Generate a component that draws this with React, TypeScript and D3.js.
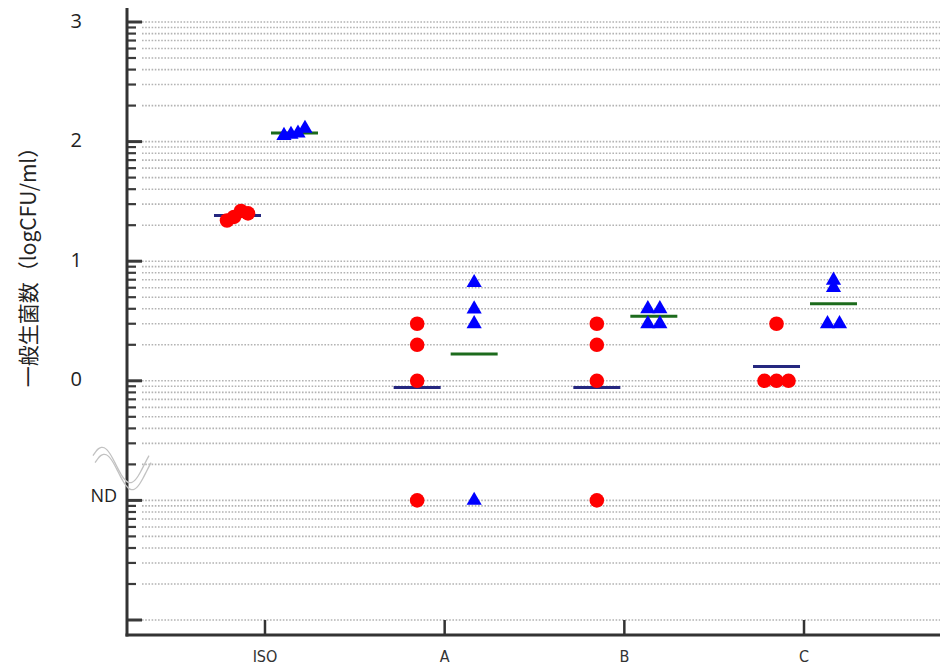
import React, { useEffect, useRef } from "react";
import * as d3 from "d3";

// Dot plot of log CFU per sample, two series per category with mean bars.
const categories = ["ISO", "A", "B", "C"];
const redValues = [
  [1.34, 1.37, 1.42, 1.4],
  [0.477, 0.301, 0, -1],
  [0.477, 0.301, 0, -1],
  [0.477, 0, 0, 0],
];
const blueValues = [
  [2.05, 2.06, 2.07, 2.11],
  [0.82, 0.6, 0.477, -1],
  [0.602, 0.602, 0.477, 0.477],
  [0.84, 0.78, 0.477, 0.477],
];
const yTickValues = [3, 2, 1, 0, -1];
const yTickLabels = ["3", "2", "1", "0", "ND"];
const yTitle = "一般生菌数（logCFU/ml）";

const W = 940;
const H = 665;

// horizontal offsets for points whose values lie close together
function spread(vals: number[], tol: number) {
  const idx = vals.map((_, i) => i).sort((a, b) => vals[a] - vals[b]);
  const offs = vals.map(() => 0);
  let group: number[] = [idx[0]];
  const flush = () => {
    if (group.length > 1) {
      const g = group.slice().sort((a, b) => a - b);
      const same = g.every((i) => vals[i] === vals[g[0]]);
      const step = same ? 12 : 7;
      g.forEach((i, k) => (offs[i] = (k - (g.length - 1) / 2) * step));
    }
  };
  for (let k = 1; k < idx.length; k++) {
    if (vals[idx[k]] - vals[idx[k - 1]] < tol) group.push(idx[k]);
    else {
      flush();
      group = [idx[k]];
    }
  }
  flush();
  return offs;
}

export default function App() {
  const ref = useRef<SVGSVGElement>(null);

  useEffect(() => {
    const svg = d3.select(ref.current);
    svg.selectAll("*").remove();

    const axisX = 127;
    const axisY = 635;
    const y = d3.scaleLinear().domain([-2, 3]).range([620, 22]);
    const x = d3.scalePoint().domain(categories).range([127, 942]).padding(0.768);
    const sub = d3.scaleBand().domain(["red", "blue"]).range([-56, 58]);
    const subX = (s: string) => (sub(s) as number) + sub.bandwidth() / 2;

    // grid lines + ticks at every log position
    const grid: { v: number; major: boolean }[] = [];
    for (let d = -2; d < 3; d++) {
      for (let k = 1; k <= 9; k++) grid.push({ v: d + Math.log10(k), major: k === 1 });
    }
    grid.push({ v: 3, major: true });

    svg
      .append("g")
      .selectAll("line")
      .data(grid)
      .join("line")
      .attr("x1", 142)
      .attr("x2", W)
      .attr("y1", (d) => y(d.v))
      .attr("y2", (d) => y(d.v))
      .attr("stroke", "#b3b3b3")
      .attr("stroke-width", 1.6)
      .attr("stroke-dasharray", "1.6,1.6");

    svg
      .append("g")
      .selectAll("line")
      .data(grid)
      .join("line")
      .attr("x1", axisX)
      .attr("x2", (d) => axisX + (d.major ? 15 : 9))
      .attr("y1", (d) => y(d.v))
      .attr("y2", (d) => y(d.v))
      .attr("stroke", "#3a3a3a")
      .attr("stroke-width", (d) => (d.major ? 3 : 2.2));

    // axes
    svg
      .append("line")
      .attr("x1", axisX)
      .attr("x2", axisX)
      .attr("y1", 8)
      .attr("y2", axisY + 1.5)
      .attr("stroke", "#333")
      .attr("stroke-width", 3);
    svg
      .append("line")
      .attr("x1", axisX - 1.5)
      .attr("x2", W)
      .attr("y1", axisY)
      .attr("y2", axisY)
      .attr("stroke", "#333")
      .attr("stroke-width", 3);

    svg
      .append("g")
      .selectAll("line")
      .data(categories)
      .join("line")
      .attr("x1", (d) => x(d) as number)
      .attr("x2", (d) => x(d) as number)
      .attr("y1", axisY)
      .attr("y2", axisY - 15)
      .attr("stroke", "#333")
      .attr("stroke-width", 2.5);

    svg
      .append("g")
      .selectAll("text")
      .data(categories)
      .join("text")
      .attr("x", (d) => x(d) as number)
      .attr("y", 662)
      .attr("text-anchor", "middle")
      .attr("font-family", "'DejaVu Sans Condensed', 'DejaVu Sans', sans-serif")
      .attr("font-size", 16)
      .attr("fill", "#333")
      .text((d) => d);

    // y tick labels
    svg
      .append("g")
      .selectAll("text")
      .data(yTickValues)
      .join("text")
      .attr("x", (d, i) => (yTickLabels[i] === "ND" ? 117 : 82))
      .attr("y", (d, i) => y(d) + (yTickLabels[i] === "ND" ? -5 : -2))
      .attr("text-anchor", "end")
      .attr("dominant-baseline", "central")
      .attr("font-family", "'Open Sans', sans-serif")
      .attr("font-size", (d, i) => (yTickLabels[i] === "ND" ? 18 : 20))
      .attr("fill", "#222")
      .text((d, i) => yTickLabels[i]);

    svg
      .append("text")
      .attr("transform", `translate(27,${262}) rotate(-90)`)
      .attr("text-anchor", "middle")
      .attr("dominant-baseline", "central")
      .attr("font-family", "'Noto Sans CJK JP', sans-serif")
      .attr("font-size", 21)
      .attr("fill", "#222")
      .text(yTitle);

    // axis break symbol
    const wave = d3
      .line<number>()
      .x((t) => 93 + t * 56)
      .y((t) => 465 - 18 * Math.sin(t * 2 * Math.PI + 0.55))
      .curve(d3.curveBasis);
    const ts = d3.range(0, 1.001, 0.05);
    [0, 7].forEach((dy) => {
      svg
        .append("path")
        .attr("d", wave(ts))
        .attr("transform", `translate(${dy * 0.3},${dy})`)
        .attr("fill", "none")
        .attr("stroke", "#c2c2c2")
        .attr("stroke-width", 1.3);
    });

    // points + means
    const tol = 0.05;
    categories.forEach((c, ci) => {
      const cx = x(c) as number;
      const rv = redValues[ci];
      const bv = blueValues[ci];
      const rOff = spread(rv, tol);
      const bOff = spread(bv, tol);
      const rx = cx + subX("red");
      const bx = cx + subX("blue");

      svg
        .append("line")
        .attr("x1", rx - 23.5)
        .attr("x2", rx + 23.5)
        .attr("y1", y(d3.mean(rv) as number))
        .attr("y2", y(d3.mean(rv) as number))
        .attr("stroke", "#25277f")
        .attr("stroke-width", 3);
      svg
        .append("line")
        .attr("x1", bx - 23.5)
        .attr("x2", bx + 23.5)
        .attr("y1", y(d3.mean(bv) as number))
        .attr("y2", y(d3.mean(bv) as number))
        .attr("stroke", "#1c6b1c")
        .attr("stroke-width", 3);

      svg
        .append("g")
        .selectAll("circle")
        .data(rv)
        .join("circle")
        .attr("cx", (d, i) => rx + rOff[i])
        .attr("cy", (d) => y(d))
        .attr("r", 7.3)
        .attr("fill", "#ff0000");

      svg
        .append("g")
        .selectAll("path")
        .data(bv)
        .join("path")
        .attr("d", d3.symbol(d3.symbolTriangle, 100)())
        .attr("transform", (d, i) => `translate(${bx + bOff[i]},${y(d)})`)
        .attr("fill", "#0000ff");
    });
  }, []);

  return (
    <svg
      ref={ref}
      width={W}
      height={H}
      style={{ position: "absolute", left: 0, top: 0, background: "#fff" }}
    />
  );
}
